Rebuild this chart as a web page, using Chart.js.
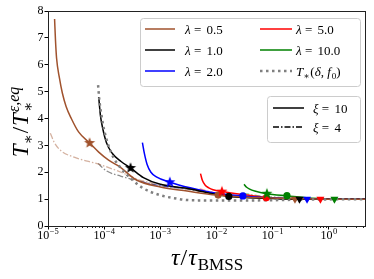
<!DOCTYPE html>
<html><head><meta charset="utf-8">
<script src="https://cdn.jsdelivr.net/npm/chart.js@4"></script>
<style>html,body{margin:0;padding:0;background:#fff;}#wrap{width:374px;height:279px;}</style>
</head><body><div id="wrap"><canvas id="c" width="374" height="279"></canvas></div>
<script>
// ---------- data ----------
const lambdaLabels = ['0.5', '1.0', '2.0', '5.0', '10.0'];
const seriesColors = ['#a0522d', '#000000', '#0000ff', '#ff0000', '#008000'];
const xTickValues = [1e-5, 1e-4, 1e-3, 1e-2, 1e-1, 1];
const xTickBase = ['10', '10', '10', '10', '10', '10'];
const xTickExp = ['−5', '−4', '−3', '−2', '−1', '0'];
const yTickValues = [0, 1, 2, 3, 4, 5, 6, 7, 8];

// xi = 10 (solid)
const l05_xi10_x = [1.31e-5, 1.36e-5, 1.42e-5, 1.6e-5, 1.8e-5, 2.1e-5, 2.6e-5, 3.5e-5, 5.5e-5, 8e-5, 1.2e-4, 1.9e-4, 3.7e-4, 1e-3, 3e-3, 1e-2, 3e-2, 1e-1, 3e-1, 1, 4.6];
const l05_xi10_y = [7.7, 6.9, 6.25, 5.5, 4.95, 4.45, 4.0, 3.5, 3.09, 2.75, 2.45, 2.2, 1.72, 1.45, 1.3, 1.15, 1.08, 1.04, 1.01, 1.0, 1.0];
const l10_xi10_x = [8e-5, 8.6e-5, 9.5e-5, 1.1e-4, 1.4e-4, 2e-4, 2.95e-4, 5e-4, 1e-3, 3.4e-3, 1e-2, 1.66e-2, 3e-2, 1e-1, 3e-1, 4.6];
const l10_xi10_y = [4.8, 4.1, 3.6, 3.1, 2.7, 2.4, 2.16, 1.8, 1.55, 1.38, 1.17, 1.1, 1.06, 1.02, 1.0, 1.0];
const l20_xi10_x = [4.8e-4, 5.2e-4, 5.8e-4, 6.8e-4, 8.5e-4, 1.48e-3, 3.4e-3, 1e-2, 2.95e-2, 1e-1, 4.1e-1, 4.6];
const l20_xi10_y = [3.1, 2.7, 2.3, 2.0, 1.83, 1.63, 1.42, 1.22, 1.12, 1.04, 1.0, 1.0];
const l50_xi10_x = [5.2e-3, 5.6e-3, 6.3e-3, 7.3e-3, 8.7e-3, 1.25e-2, 3.5e-2, 7.7e-2, 2e-1, 7.1e-1, 4.6];
const l50_xi10_y = [1.95, 1.7, 1.52, 1.42, 1.35, 1.28, 1.15, 1.06, 1.02, 1.0, 1.0];
const l100_xi10_x = [3.1e-2, 3.4e-2, 3.9e-2, 4.8e-2, 7.9e-2, 1.8e-1, 5e-1, 1.26, 4.6];
const l100_xi10_y = [1.55, 1.45, 1.37, 1.3, 1.2, 1.12, 1.03, 1.0, 1.0];

// xi = 4 (dash-dot, faded)
const l05_xi4_x = [1.1e-5, 1.3e-5, 1.7e-5, 3e-5, 8e-5, 2e-4, 4.5e-4, 1e-3, 3e-3, 1e-2, 3e-2, 1e-1, 3e-1, 4.6];
const l05_xi4_y = [3.45, 3.1, 2.8, 2.55, 2.3, 2.0, 1.7, 1.55, 1.38, 1.2, 1.1, 1.04, 1.01, 1.0];
const l10_xi4_x = [7.8e-5, 9e-5, 1.1e-4, 2e-4, 4e-4, 1e-3, 3e-3, 1e-2, 3e-2, 1e-1, 3e-1, 4.6];
const l10_xi4_y = [2.33, 2.2, 2.05, 1.85, 1.68, 1.5, 1.37, 1.2, 1.1, 1.04, 1.0, 1.0];
const l20_xi4_x = [4.5e-4, 1e-3, 3.4e-3, 1e-2, 3e-2, 1e-1, 4e-1, 4.6];
const l20_xi4_y = [1.65, 1.5, 1.38, 1.2, 1.1, 1.03, 1.0, 1.0];
const l50_xi4_x = [5e-3, 1e-2, 3e-2, 1e-1, 7e-1, 4.6];
const l50_xi4_y = [1.38, 1.22, 1.1, 1.03, 1.0, 1.0];
const l100_xi4_x = [3e-2, 6e-2, 2e-1, 1, 4.6];
const l100_xi4_y = [1.22, 1.12, 1.05, 1.0, 1.0];

// T*(delta, f0) dotted
const tstar_x = [7.8e-5, 8.2e-5, 9e-5, 1.0e-4, 1.35e-4, 1.9e-4, 3.2e-4, 4.9e-4, 9.8e-4, 1.7e-3, 3.4e-3, 1e-2, 3e-2, 1e-1, 3e-1, 1, 4.6];
const tstar_y = [5.24, 4.7, 4.1, 3.57, 2.7, 2.2, 1.71, 1.41, 1.15, 1.04, 0.96, 0.95, 0.95, 0.96, 0.98, 0.99, 1.0];

// markers (one per lambda)
const star_x = [5.5e-5, 2.95e-4, 1.48e-3, 1.25e-2, 7.9e-2];
const star_y = [3.09, 2.16, 1.63, 1.28, 1.2];
const circle_x = [1.07e-2, 1.66e-2, 2.95e-2, 7.7e-2, 1.8e-1];
const circle_y = [1.15, 1.1, 1.12, 1.05, 1.13];
const tri_x = [0.25, 0.30, 0.41, 0.71, 1.26];
const tri_y = [1.0, 1.0, 1.0, 1.0, 1.0];

// ---------- helpers ----------
const SERIF = '"Liberation Serif", "DejaVu Serif", serif';
function pts(xs, ys) { return xs.map((x, i) => ({ x: x, y: ys[i] })); }
function fade(hex, a) {
  const n = parseInt(hex.slice(1), 16);
  return 'rgba(' + ((n >> 16) & 255) + ',' + ((n >> 8) & 255) + ',' + (n & 255) + ',' + a + ')';
}
function makeStar(color, R) {
  const r = R * 0.42, s = Math.ceil(R * 2 + 2);
  const c = document.createElement('canvas'); c.width = s; c.height = s;
  const g = c.getContext('2d'); g.beginPath();
  for (let i = 0; i < 10; i++) {
    const a = -Math.PI / 2 + i * Math.PI / 5, rr = (i % 2) ? r : R;
    g.lineTo(s / 2 + rr * Math.cos(a), s / 2 + rr * Math.sin(a));
  }
  g.closePath(); g.fillStyle = color; g.fill();
  return c;
}

const solidX = [l05_xi10_x, l10_xi10_x, l20_xi10_x, l50_xi10_x, l100_xi10_x];
const solidY = [l05_xi10_y, l10_xi10_y, l20_xi10_y, l50_xi10_y, l100_xi10_y];
const dashX = [l05_xi4_x, l10_xi4_x, l20_xi4_x, l50_xi4_x, l100_xi4_x];
const dashY = [l05_xi4_y, l10_xi4_y, l20_xi4_y, l50_xi4_y, l100_xi4_y];
const DASHDOT = [6, 2, 1.5, 2];
const DOTS = [2.5, 3.5];

const datasets = [];
datasets.push({ label: 'star', data: pts(star_x, star_y), showLine: false, order: 0,
  pointStyle: seriesColors.map(c => makeStar(c, 5.8)), pointRadius: 5 });
datasets.push({ label: 'circle', data: pts(circle_x, circle_y), showLine: false, order: 0,
  pointStyle: 'circle', pointRadius: 3.6, pointBackgroundColor: seriesColors, pointBorderColor: seriesColors, pointBorderWidth: 0 });
datasets.push({ label: 'tri', data: pts(tri_x, tri_y), showLine: false, order: 0,
  pointStyle: 'triangle', rotation: 180, pointRadius: 4.6, pointBackgroundColor: seriesColors, pointBorderColor: seriesColors, pointBorderWidth: 0 });
datasets.push({ label: 'tstar', data: pts(tstar_x, tstar_y), borderColor: '#808080', borderWidth: 2.5,
  borderDash: DOTS, pointRadius: 0, fill: false, cubicInterpolationMode: 'monotone', order: 1 });
for (let i = 0; i < 5; i++) {
  datasets.push({ label: 'l' + lambdaLabels[i] + ' xi10', data: pts(solidX[i], solidY[i]), borderColor: seriesColors[i],
    borderWidth: 1.5, pointRadius: 0, fill: false, cubicInterpolationMode: 'monotone', order: 2 });
  datasets.push({ label: 'l' + lambdaLabels[i] + ' xi4', data: pts(dashX[i], dashY[i]), borderColor: fade(seriesColors[i], 0.45),
    borderWidth: 1.3, borderDash: DASHDOT, pointRadius: 0, fill: false, cubicInterpolationMode: 'monotone', order: 3 });
}

// ---------- text runs ----------
function measure(ctx, s) {
  if (s.stack) return Math.max.apply(null, s.stack.map(q => measure(ctx, q)));
  ctx.font = s.f; return ctx.measureText(s.t).width + (s.pad || 0);
}
function drawRun(ctx, segs, x, y, center) {
  const w = segs.reduce((a, s) => a + measure(ctx, s), 0);
  let cx = center ? x - w / 2 : x;
  ctx.textAlign = 'left'; ctx.textBaseline = 'alphabetic'; ctx.fillStyle = '#000';
  for (const s of segs) {
    const list = s.stack ? s.stack : [s];
    for (const q of list) { ctx.font = q.f; ctx.fillText(q.t, cx + (q.dx || 0), y + (q.dy || 0)); }
    cx += measure(ctx, s);
  }
}
const F = (sz, it) => (it ? 'italic ' : '') + sz + 'px ' + SERIF;
function lamRun(v) { return [{ t: 'λ', f: F(13, true) }, { t: ' = ', f: F(13), pad: 2 }, { t: v, f: F(13) }]; }

const overlay = {
  id: 'overlay',
  afterDraw(chart) {
    const ctx = chart.ctx, a = chart.chartArea, xs = chart.scales.x;
    ctx.save();
    // frame
    ctx.strokeStyle = '#222'; ctx.lineWidth = 1;
    ctx.strokeRect(Math.round(a.left) + 0.5, Math.round(a.top) + 0.5, Math.round(a.right - a.left) - 1, Math.round(a.bottom - a.top));
    // minor ticks
    ctx.beginPath();
    for (let n = -5; n <= 0; n++) for (let k = 2; k <= 9; k++) {
      const v = k * Math.pow(10, n);
      if (v > xs.max) continue;
      const px = Math.round(xs.getPixelForValue(v)) + 0.5;
      ctx.moveTo(px, a.bottom); ctx.lineTo(px, a.bottom + 2);
    }
    ctx.stroke();
    // x tick labels (10 with superscript exponent)
    xTickValues.forEach((v, i) => {
      const px = xs.getPixelForValue(v);
      drawRun(ctx, [{ t: xTickBase[i], f: F(12), pad: 0.5 }, { t: xTickExp[i], f: F(8.5), dy: -5 }], px, a.bottom + 13, true);
    });
    // legend 1
    ctx.fillStyle = 'rgba(255,255,255,0.85)'; ctx.strokeStyle = '#cccccc';
    ctx.beginPath(); ctx.roundRect(140.5, 18.5, 220, 68, 3); ctx.fill(); ctx.stroke();
    const rows = [29, 50, 71];
    const cols = [{ x1: 145, x2: 175, tx: 185 }, { x1: 260, x2: 292, tx: 296 }];
    for (let i = 0; i < 5; i++) {
      const c = cols[i < 3 ? 0 : 1], y = rows[i < 3 ? i : i - 3];
      ctx.strokeStyle = seriesColors[i]; ctx.lineWidth = 1.5; ctx.setLineDash([]);
      ctx.beginPath(); ctx.moveTo(c.x1, y); ctx.lineTo(c.x2, y); ctx.stroke();
      drawRun(ctx, lamRun(lambdaLabels[i]), c.tx, y + 4.5, false);
    }
    ctx.strokeStyle = '#808080'; ctx.lineWidth = 2.5; ctx.setLineDash(DOTS);
    ctx.beginPath(); ctx.moveTo(260, 71); ctx.lineTo(292, 71); ctx.stroke(); ctx.setLineDash([]);
    drawRun(ctx, [{ t: 'T', f: F(13, true) }, { t: '∗', f: F(9), dy: 3, pad: 1 }, { t: '(', f: F(13) }, { t: 'δ', f: F(13, true) },
      { t: ', ', f: F(13) }, { t: 'f', f: F(13, true), pad: 1 }, { t: '0', f: F(9), dy: 3 }, { t: ')', f: F(13) }], 296, 75.5, false);
    // legend 2
    ctx.fillStyle = 'rgba(255,255,255,0.85)'; ctx.strokeStyle = '#cccccc'; ctx.lineWidth = 1;
    ctx.beginPath(); ctx.roundRect(267.5, 96.5, 93, 46, 3); ctx.fill(); ctx.stroke();
    ctx.strokeStyle = '#000'; ctx.lineWidth = 1.5;
    ctx.beginPath(); ctx.moveTo(273, 108); ctx.lineTo(304, 108); ctx.stroke();
    ctx.setLineDash(DASHDOT); ctx.lineWidth = 1.3;
    ctx.beginPath(); ctx.moveTo(273, 127); ctx.lineTo(304, 127); ctx.stroke(); ctx.setLineDash([]);
    drawRun(ctx, [{ t: 'ξ', f: F(13, true) }, { t: ' = ', f: F(13), pad: 2 }, { t: '10', f: F(13) }], 313, 112.5, false);
    drawRun(ctx, [{ t: 'ξ', f: F(13, true) }, { t: ' = ', f: F(13), pad: 2 }, { t: '4', f: F(13) }], 313, 131.5, false);
    // x title
    drawRun(ctx, [{ t: 'τ', f: F(24, true), pad: 1 }, { t: '/', f: F(24), pad: 1 }, { t: 'τ', f: F(24, true), pad: 1 }, { t: 'BMSS', f: F(17), dy: 5 }],
      (a.left + a.right) / 2, 265, true);
    // y title
    ctx.translate(28, 122); ctx.rotate(-Math.PI / 2);
    drawRun(ctx, [{ t: 'T', f: F(23, true) }, { t: '∗', f: F(15), dy: 5, pad: 1 }, { t: '/', f: F(23), pad: 1 }, { t: 'T', f: F(23, true), pad: 1 },
      { stack: [{ t: 'ε,eq', f: F(16, true), dy: -9 }, { t: '∗', f: F(15), dy: 5 }] }], 0, 0, true);
    ctx.restore();
  }
};

new Chart(document.getElementById('c'), {
  type: 'line',
  data: { datasets: datasets },
  options: {
    responsive: false, animation: false, devicePixelRatio: 1,
    layout: { padding: { top: 11, right: 8, left: 0, bottom: 0 } },
    plugins: { legend: { display: false }, tooltip: { enabled: false } },
    scales: {
      x: {
        type: 'logarithmic', min: 1e-5, max: 4.6,
        afterFit(s) { s.height = 53; },
        afterBuildTicks(s) { s.ticks = xTickValues.map(v => ({ value: v, major: true })); },
        ticks: { display: false, autoSkip: false },
        grid: { display: true, drawOnChartArea: false, drawTicks: true, tickLength: 3.5, color: '#000' },
        border: { display: false }
      },
      y: {
        type: 'linear', min: 0, max: 8,
        afterFit(s) { s.width = 48; },
        afterBuildTicks(s) { s.ticks = yTickValues.map(v => ({ value: v })); },
        ticks: { font: { family: SERIF, size: 12 }, color: '#000', padding: 1 },
        grid: { display: true, drawOnChartArea: false, drawTicks: true, tickLength: 3.5, color: '#000' },
        border: { display: false }
      }
    }
  },
  plugins: [overlay]
});
</script></body></html>
